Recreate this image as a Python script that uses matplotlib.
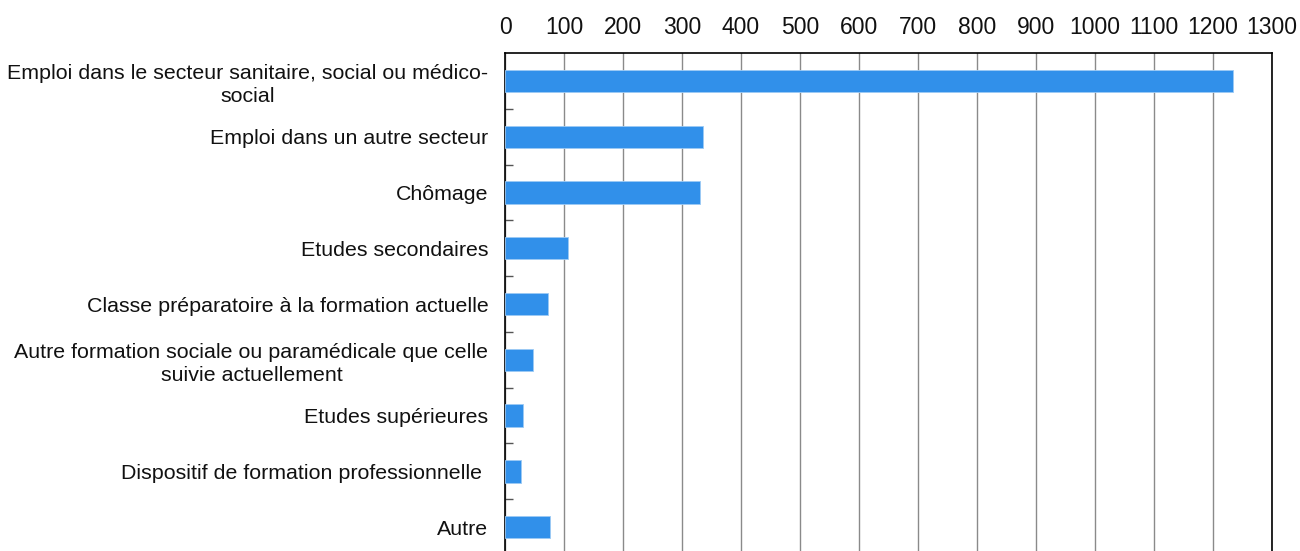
import numpy as np
import matplotlib
matplotlib.use('Agg')
import matplotlib.pyplot as plt

plt.rcParams['font.family'] = ['Liberation Sans', 'DejaVu Sans']

# Data
categories = [
    "Emploi dans le secteur sanitaire, social ou médico-\nsocial",
    "Emploi dans un autre secteur",
    "Chômage",
    "Etudes secondaires",
    "Classe préparatoire à la formation actuelle",
    "Autre formation sociale ou paramédicale que celle\nsuivie actuellement",
    "Etudes supérieures",
    "Dispositif de formation professionnelle ",
    "Autre",
]
values = [1234, 335, 330, 107, 72, 48, 31, 27, 76]
xticks = list(range(0, 1301, 100))

fig = plt.figure(figsize=(13, 5.51), dpi=100)
ax = fig.add_axes([0.3885, -0.0073, 0.5900, 0.9110])

ind = np.arange(len(categories))
ax.barh(ind, values, height=0.4, color='#3190ea', edgecolor='#9ccaf5',
        linewidth=0.6, zorder=3)

ax.set_xlim(0, 1300)
ax.set_ylim(len(categories) - 0.5, -0.5)

ax.set_xticks(xticks)
ax.set_xticklabels([str(t) for t in xticks])
ax.xaxis.tick_top()
ax.tick_params(axis='x', length=0, pad=10, labelsize=16.5, colors='#111111')

ax.set_yticks(ind)
ax.set_yticklabels(categories, multialignment='center', linespacing=1.25)
ax.set_yticks(ind[:-1] + 0.5, minor=True)
ax.tick_params(axis='y', which='major', length=0, pad=12, labelsize=15.4,
               colors='#111111')
ax.tick_params(axis='y', which='minor', direction='in', length=6,
               width=1, color='#555555')

ax.grid(True, axis='x', color='#8a8a8a', linewidth=1, zorder=0)
ax.set_axisbelow(True)

for side in ['top', 'left', 'right']:
    ax.spines[side].set_color('black')
    ax.spines[side].set_linewidth(1.2)
ax.spines['bottom'].set_visible(False)

fig.savefig('out.png', dpi=100, facecolor='white')
plt.close(fig)
